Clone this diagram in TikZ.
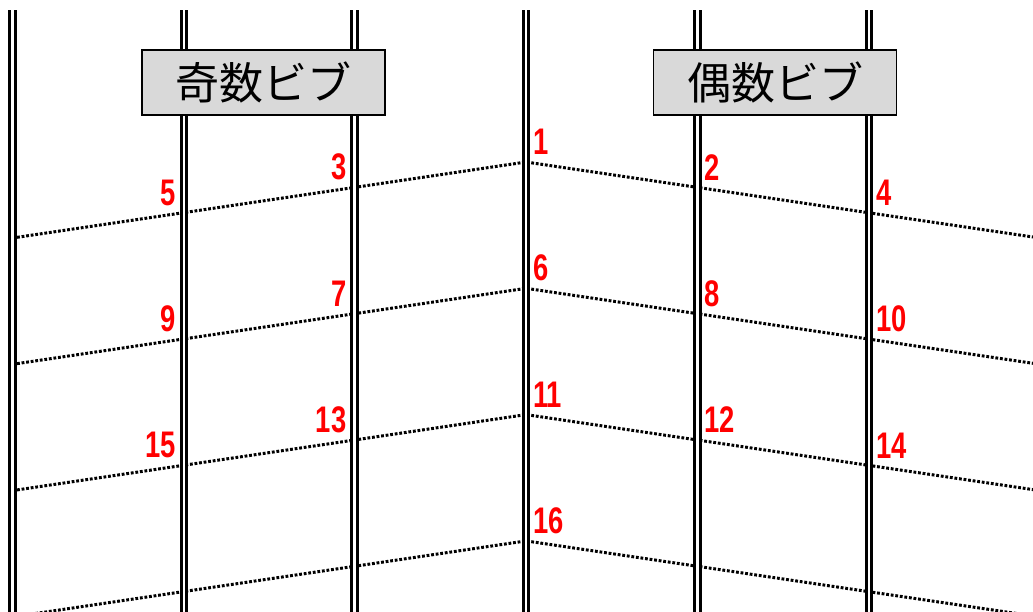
\documentclass[tikz,border=0pt]{standalone}
\usepackage{fontspec}
\usepackage{graphicx}
\newfontfamily\jpfont{Noto Sans CJK JP}
\newfontfamily\numfont{Liberation Sans}
\definecolor{boxgray}{HTML}{D9D9D9}
\newcommand{\nm}[1]{\scalebox{0.74}[1]{#1}}
\tikzset{
  colline/.style={draw=black, line width=3.2pt, double=white, double distance=2.4pt},
  dotline/.style={draw=black, line width=3pt, dash pattern=on 2.8pt off 1.8pt},
  titlebox/.style={draw=black, line width=1.8pt, fill=boxgray, minimum width=243pt, minimum height=65pt, inner sep=0pt, font=\jpfont\fontsize{44}{44}\selectfont},
  numlbl/.style={text=red, inner sep=0pt, font=\numfont\bfseries\fontsize{37}{37}\selectfont},
}
\begin{document}
\begin{tikzpicture}[x=1pt,y=-1pt]
\useasboundingbox (0,0) rectangle (1033,611);
\clip (0,0) rectangle (1033,611);
% row coordinates
\foreach \r/\y in {1/162,2/288.3,3/414.6,4/540.9} {
  \coordinate (r\r c1) at (12.5,\y+76);
  \coordinate (r\r c2) at (184,\y+50.6);
  \coordinate (r\r c3) at (354.5,\y+25.4);
  \coordinate (r\r c4) at (526,\y);
  \coordinate (r\r c5) at (697.5,\y+25.4);
  \coordinate (r\r c6) at (869,\y+50.8);
  \coordinate (r\r R) at (1033,\y+75);
}
\foreach \r in {1,2,3,4} {
  \draw[dotline] (r\r c1) -- (r\r c2) -- (r\r c3) -- (r\r c4) -- (r\r c5) -- (r\r c6) -- (r\r R);
}
% columns
\foreach \k/\x in {1/12.5,2/184,3/354.5,4/526,5/697.5,6/869} {
  \coordinate (t\k) at (\x,10);
  \coordinate (b\k) at (\x,620);
  \draw[colline] (t\k) -- (b\k);
}
% title boxes
\node[titlebox] (odd) at (263.5,82.5) {奇数ビブ};
\node[titlebox] (even) at (775,82.5) {偶数ビブ};
% labels right of a column
\foreach \n/\c in {1/r1c4,2/r1c5,4/r1c6,6/r2c4,8/r2c5,10/r2c6,11/r3c4,12/r3c5,14/r3c6,16/r4c4} {
  \node[numlbl, anchor=south west] (n\n) at ([shift={(7,-7)}]\c) {\nm{\n}};
}
% labels left of a column
\foreach \n/\c in {3/r1c3,5/r1c2,7/r2c3,9/r2c2,13/r3c3,15/r3c2} {
  \node[numlbl, anchor=south east] (n\n) at ([shift={(-8,-7)}]\c) {\nm{\n}};
}
\end{tikzpicture}
\end{document}
